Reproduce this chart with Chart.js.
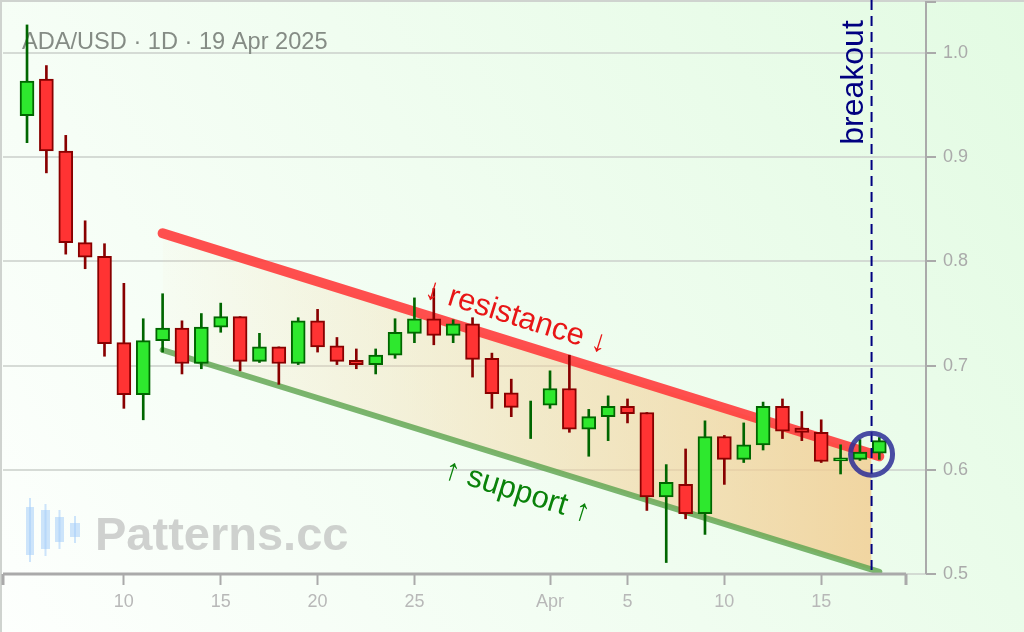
<!DOCTYPE html>
<html>
<head>
<meta charset="utf-8">
<script src="https://cdn.jsdelivr.net/npm/chart.js@4.4.1/dist/chart.umd.min.js"></script>
<style>
  html, body { margin: 0; padding: 0; background: #f2fdf2; }
  #wrap { width: 1024px; height: 632px; }
</style>
</head>
<body>
<div id="wrap"><canvas id="chart" width="1024" height="632"></canvas></div>
<script>
// ADA/USD daily candles, 5 Mar - 18 Apr 2025
const DATES  = ['03-05','03-06','03-07','03-08','03-09','03-10','03-11','03-12','03-13','03-14',
                '03-15','03-16','03-17','03-18','03-19','03-20','03-21','03-22','03-23','03-24',
                '03-25','03-26','03-27','03-28','03-29','03-30','03-31','04-01','04-02','04-03',
                '04-04','04-05','04-06','04-07','04-08','04-09','04-10','04-11','04-12','04-13',
                '04-14','04-15','04-16','04-17','04-18'];
const OPENS  = [0.940,0.975,0.906,0.818,0.805,0.722,0.672,0.724,0.736,0.702,
                0.737,0.747,0.704,0.718,0.702,0.743,0.719,0.705,0.701,0.710,
                0.731,0.745,0.729,0.740,0.707,0.674,0.648,0.662,0.678,0.639,
                0.651,0.661,0.655,0.574,0.586,0.558,0.632,0.610,0.624,0.661,
                0.640,0.636,0.6085,0.610,0.616];
const HIGHS  = [1.027,0.988,0.921,0.839,0.817,0.779,0.745,0.769,0.743,0.750,
                0.760,0.747,0.731,0.718,0.746,0.754,0.727,0.716,0.716,0.745,
                0.765,0.774,0.744,0.746,0.712,0.687,0.666,0.695,0.710,0.658,
                0.671,0.668,0.655,0.605,0.620,0.647,0.633,0.645,0.665,0.668,
                0.656,0.648,0.624,0.629,0.631];
const LOWS   = [0.914,0.885,0.807,0.793,0.709,0.659,0.648,0.713,0.692,0.697,
                0.732,0.695,0.703,0.682,0.701,0.713,0.701,0.697,0.692,0.707,
                0.722,0.720,0.722,0.689,0.659,0.651,0.630,0.659,0.636,0.613,
                0.628,0.645,0.561,0.511,0.553,0.538,0.586,0.607,0.619,0.630,
                0.628,0.607,0.596,0.609,0.610];
const CLOSES = [0.973,0.906,0.818,0.804,0.721,0.672,0.724,0.736,0.702,0.737,
                0.747,0.704,0.718,0.702,0.743,0.718,0.704,0.701,0.710,0.732,
                0.745,0.729,0.740,0.706,0.673,0.660,0.648,0.678,0.639,0.651,
                0.661,0.654,0.574,0.588,0.558,0.632,0.610,0.624,0.661,0.637,
                0.636,0.608,0.6115,0.617,0.628];

const TICK_DATES  = ['03-10','03-15','03-20','03-25','04-01','04-05','04-10','04-15'];
const TICK_LABELS = ['10','15','20','25','Apr','5','10','15'];
const Y_TICKS     = [0.5, 0.6, 0.7, 0.8, 0.9, 1.0];

// channel lines (start / end)
const LINE_DATES = ['03-12', '04-18'];
const RESISTANCE = [0.827, 0.613];
const SUPPORT    = [0.715, 0.502];
// shaded channel, cut at the breakout
const BREAKOUT_DAY = 47.6;            // between 17 and 18 Apr
const FILL_TOP = [0.827, 0.615];
const FILL_BOT = [0.715, 0.504];
const BREAKOUT_PRICE = 0.615;

const FONT = '"Liberation Sans", Arial, sans-serif';

// day number counted from 1 Mar (= 0)
function toDay(s) {
  const [m, d] = s.split('-').map(Number);
  return m === 3 ? d - 1 : 30 + d;
}

const TICK_VALS = TICK_DATES.map(toDay);
const days = DATES.map(toDay);
const isUp = OPENS.map((o, i) => CLOSES[i] >= o);

const bodies = days.map((x, i) => ({ x, y: [OPENS[i], CLOSES[i]] }));
const wicks  = days.map((x, i) => ({ x, y: [LOWS[i], HIGHS[i]] }));
const fillX  = [toDay(LINE_DATES[0]), BREAKOUT_DAY];

// background + frame
const bgPlugin = {
  id: 'bg',
  beforeDraw(chart) {
    const { ctx, width, height } = chart;
    ctx.save();
    const g = ctx.createLinearGradient(0, height, width, 0);
    g.addColorStop(0, '#fdfffd');
    g.addColorStop(1, '#e3fbe3');
    ctx.fillStyle = g;
    ctx.fillRect(0, 0, width, height);
    ctx.strokeStyle = '#cfd3cf';
    ctx.lineWidth = 2;
    ctx.beginPath();
    ctx.moveTo(0, 1); ctx.lineTo(width, 1);
    ctx.moveTo(1, 0); ctx.lineTo(1, height);
    ctx.stroke();
    ctx.restore();
  }
};

// title and watermark, under the candles
const underPlugin = {
  id: 'under',
  beforeDatasetsDraw(chart) {
    const { ctx } = chart;
    ctx.save();
    ctx.fillStyle = '#858c85';
    ctx.font = '23.6px ' + FONT;
    ctx.textBaseline = 'alphabetic';
    ctx.fillText('ADA/USD \u00b7 1D \u00b7 19 Apr 2025', 22, 49);

    // logo
    ctx.fillStyle = 'rgba(165,205,250,0.55)';
    [[30, 498, 562, 26, 507, 8, 48], [45.5, 504, 556, 41, 510, 9, 39],
     [59.5, 510, 549, 55, 517, 9, 25], [75, 516, 543, 70, 523, 10, 14]].forEach(c => {
      ctx.fillRect(c[0] - 1, c[1], 2, c[2] - c[1]);
      ctx.fillRect(c[3], c[4], c[5], c[6]);
    });
    ctx.fillStyle = 'rgba(180,180,180,0.62)';
    ctx.font = 'bold 47px ' + FONT;
    ctx.fillText('Patterns.cc', 95, 550);
    ctx.restore();
  }
};

function drawAlong(ctx, text, cx, cy, angle, color) {
  ctx.save();
  ctx.translate(cx, cy);
  ctx.rotate(angle);
  ctx.fillStyle = color;
  ctx.font = '31px ' + FONT;
  ctx.textAlign = 'center';
  ctx.textBaseline = 'middle';
  ctx.fillText(text, 0, 0);
  ctx.restore();
}

// breakout marker, labels and axis spines
const overPlugin = {
  id: 'over',
  afterDatasetsDraw(chart) {
    const { ctx, chartArea, scales: { x, y } } = chart;
    const bx = x.getPixelForValue(BREAKOUT_DAY);
    ctx.save();

    // dashed breakout line
    ctx.strokeStyle = '#000080';
    ctx.lineWidth = 2;
    ctx.setLineDash([10, 6]);
    ctx.beginPath();
    ctx.moveTo(bx, 0);
    ctx.lineTo(bx, chartArea.bottom);
    ctx.stroke();
    ctx.setLineDash([]);

    // circle around the breakout
    ctx.strokeStyle = 'rgba(45,45,150,0.85)';
    ctx.lineWidth = 5;
    ctx.beginPath();
    ctx.arc(bx, y.getPixelForValue(BREAKOUT_PRICE), 21, 0, Math.PI * 2);
    ctx.stroke();

    // breakout label
    ctx.save();
    ctx.translate(bx - 9, y.getPixelForValue(0.912));
    ctx.rotate(-Math.PI / 2);
    ctx.fillStyle = '#000080';
    ctx.font = '32px ' + FONT;
    ctx.textBaseline = 'alphabetic';
    ctx.fillText('breakout', 0, 0);
    ctx.restore();

    // channel labels
    const x0 = x.getPixelForValue(toDay(LINE_DATES[0]));
    const x1 = x.getPixelForValue(toDay(LINE_DATES[1]));
    const ra = Math.atan2(y.getPixelForValue(RESISTANCE[1]) - y.getPixelForValue(RESISTANCE[0]), x1 - x0);
    const sa = Math.atan2(y.getPixelForValue(SUPPORT[1]) - y.getPixelForValue(SUPPORT[0]), x1 - x0);
    drawAlong(ctx, '\u2193 resistance \u2193', x.getPixelForValue(29.25), y.getPixelForValue(0.7466), ra, '#e81616');
    drawAlong(ctx, '\u2191 support \u2191', x.getPixelForValue(29.3), y.getPixelForValue(0.579), sa, '#0a820a');

    // spines
    ctx.strokeStyle = '#aaaaaa';
    ctx.lineWidth = 3;
    ctx.beginPath();
    ctx.moveTo(chartArea.left, chartArea.bottom);
    ctx.lineTo(chartArea.right - 20, chartArea.bottom);
    ctx.moveTo(chartArea.left, chartArea.bottom);
    ctx.lineTo(chartArea.left, chartArea.bottom + 11);
    ctx.moveTo(chartArea.right - 20, chartArea.bottom);
    ctx.lineTo(chartArea.right - 20, chartArea.bottom + 11);
    ctx.stroke();
    ctx.lineWidth = 2;
    ctx.beginPath();
    ctx.moveTo(chartArea.right + 10, chartArea.top);
    ctx.lineTo(chartArea.right, chartArea.top);
    ctx.lineTo(chartArea.right, chartArea.bottom);
    ctx.stroke();
    ctx.restore();
  }
};

function channelGradient(c) {
  const chart = c.chart;
  if (!chart.chartArea) return 'transparent';
  const xs = chart.scales.x;
  const g = chart.ctx.createLinearGradient(xs.getPixelForValue(fillX[0]), 0, xs.getPixelForValue(fillX[1]), 0);
  g.addColorStop(0, 'rgba(245,215,165,0.05)');
  g.addColorStop(1, 'rgba(242,205,145,0.82)');
  return g;
}

new Chart(document.getElementById('chart').getContext('2d'), {
  type: 'bar',
  data: {
    datasets: [
      {
        type: 'line', label: 'fillTop',
        data: fillX.map((d, i) => ({ x: d, y: FILL_TOP[i] })),
        borderColor: 'transparent', borderWidth: 0, pointRadius: 0, fill: false, order: 20
      },
      {
        type: 'line', label: 'fillBot',
        data: fillX.map((d, i) => ({ x: d, y: FILL_BOT[i] })),
        borderColor: 'transparent', borderWidth: 0, pointRadius: 0,
        fill: 0, backgroundColor: channelGradient, order: 19
      },
      {
        type: 'line', label: 'support',
        data: LINE_DATES.map((d, i) => ({ x: toDay(d), y: SUPPORT[i] })),
        borderColor: 'rgba(95,165,80,0.82)', borderWidth: 6, borderCapStyle: 'round',
        pointRadius: 0, fill: false, order: 18
      },
      {
        type: 'line', label: 'resistance',
        data: LINE_DATES.map((d, i) => ({ x: toDay(d), y: RESISTANCE[i] })),
        borderColor: 'rgba(255,60,60,0.9)', borderWidth: 10, borderCapStyle: 'round',
        pointRadius: 0, fill: false, order: 17
      },
      {
        label: 'wicks', data: wicks,
        backgroundColor: isUp.map(u => u ? '#006600' : '#880000'),
        borderWidth: 0, barThickness: 2, grouped: false, order: 5
      },
      {
        label: 'bodies', data: bodies,
        backgroundColor: isUp.map(u => u ? '#2ee82e' : '#ff3333'),
        borderColor: isUp.map(u => u ? '#006600' : '#880000'),
        borderWidth: 2, borderSkipped: false, barThickness: 14, grouped: false, order: 4
      }
    ]
  },
  options: {
    responsive: false,
    animation: false,
    layout: { padding: { left: 3, top: 2, right: 0, bottom: 0 } },
    plugins: { legend: { display: false }, tooltip: { enabled: false } },
    scales: {
      x: {
        type: 'linear', min: 2.76, max: 50.41, offset: false,
        grid: { display: true, offset: false, drawOnChartArea: false, drawTicks: true,
                tickLength: 11, tickColor: '#aaaaaa', tickWidth: 2 },
        border: { display: false },
        ticks: {
          color: '#b8b8b8', font: { family: FONT, size: 18 }, padding: 6,
          maxRotation: 0, autoSkip: false,
          callback: v => TICK_LABELS[TICK_VALS.indexOf(v)]
        },
        afterBuildTicks: s => { s.ticks = TICK_VALS.map(v => ({ value: v })); },
        afterFit: s => { s.height = 58; s.paddingLeft = 0; s.paddingRight = 0; }
      },
      y: {
        position: 'right', min: 0.5, max: 1.049,
        grid: { color: 'rgba(205,210,205,0.8)', lineWidth: 2, tickLength: 10,
                tickColor: '#aaaaaa', tickWidth: 2 },
        border: { display: false },
        ticks: {
          color: '#aaaaaa', font: { family: FONT, size: 18 }, padding: 7,
          callback: v => v.toFixed(1)
        },
        afterBuildTicks: s => { s.ticks = Y_TICKS.map(v => ({ value: v })); },
        afterFit: s => { s.width = 98; s.paddingTop = 0; s.paddingBottom = 0; }
      }
    }
  },
  plugins: [bgPlugin, underPlugin, overPlugin]
});
</script>
</body>
</html>
